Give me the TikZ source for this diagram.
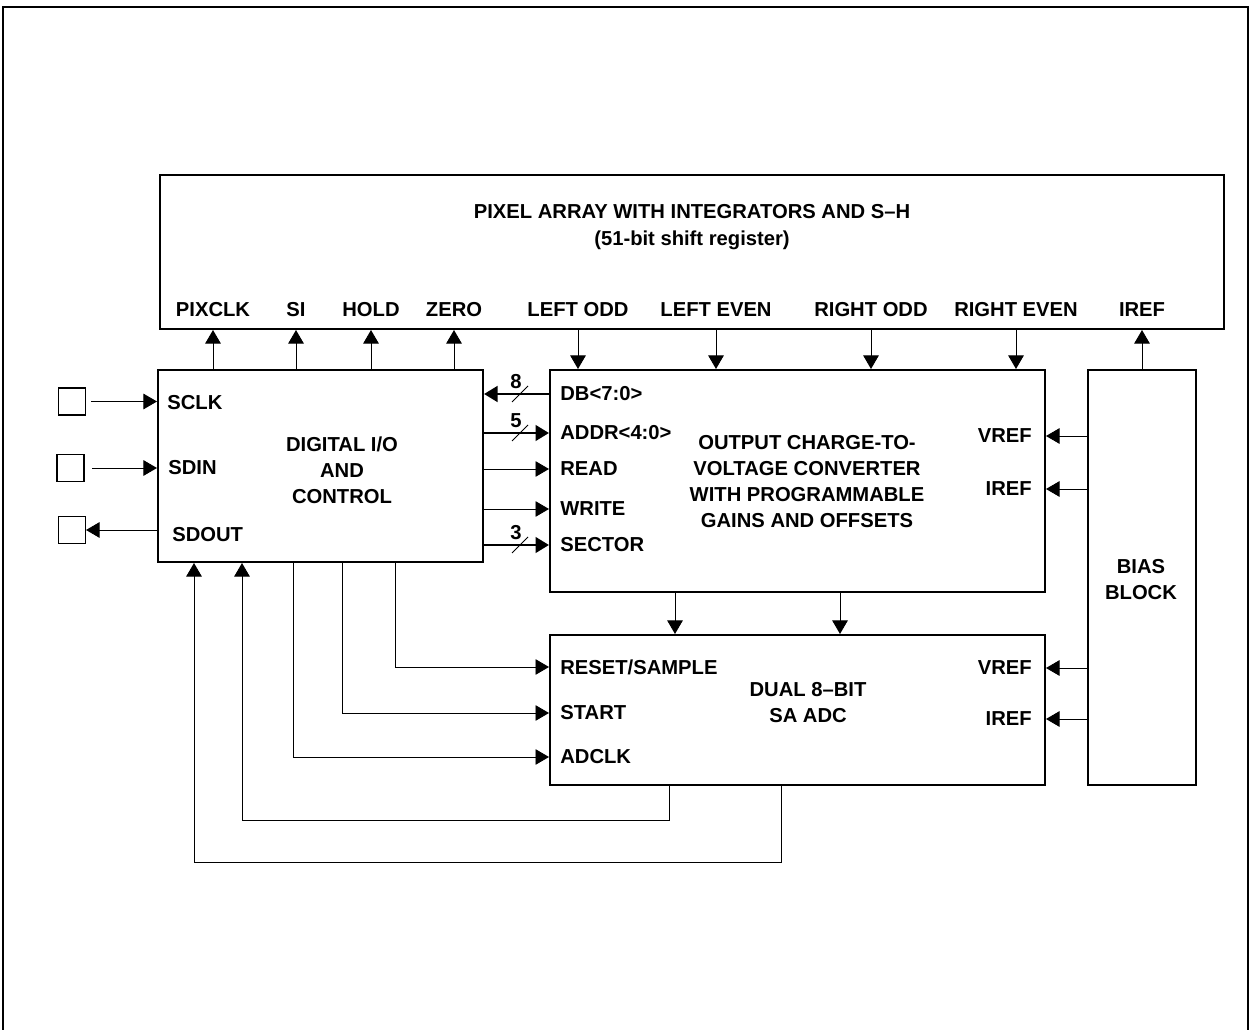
\documentclass[tikz,border=0pt]{standalone}
\usepackage{fontspec}
\setmainfont{Liberation Sans}
\usetikzlibrary{arrows.meta, positioning}

\begin{document}
\begin{tikzpicture}[
	x=0.02cm, y=-0.02cm,
	blk/.style={rectangle, draw, line width=1.2pt, inner sep=0pt},
	txt/.style={font=\fontsize{11.5}{14.8}\selectfont\bfseries, inner sep=0pt, align=center},
	sig/.style={-{Triangle[length=0.27cm, width=0.31cm]}, line width=0.5pt},
	bus/.style={sig, line width=1.7pt},
	pin/.style={rectangle, draw, line width=0.6pt, minimum size=0.54cm, inner sep=0pt}
	]
	\useasboundingbox (0,0) rectangle (1251,1030);
	\draw[line width=1pt] (3,1030) -- (3,7) -- (1248,7) -- (1248,1030);

	\node[blk, minimum width=21.28cm, minimum height=3.08cm] (pixarr) at (692,252) {};
	\node[blk, minimum width=6.5cm, minimum height=3.84cm] (digio) at (320.5,466) {};
	\node[blk, minimum width=9.9cm, minimum height=4.44cm] (ctov) at (797.5,481) {};
	\node[blk, minimum width=9.9cm, minimum height=3.0cm] (adc) at (797.5,710) {};
	\node[blk, minimum width=2.16cm, minimum height=8.3cm] (bias) at (1142,577.5) {};

	\node[txt] (pixtitle) at (692,227) {PIXEL ARRAY WITH INTEGRATORS AND S--H\\[1pt](51-bit shift register)};
	\node[txt] (digtitle) at (342,470) {DIGITAL I/O\\AND\\CONTROL};
	\node[txt] (ctovtitle) at (807,482) {OUTPUT CHARGE-TO-\\VOLTAGE CONVERTER\\WITH PROGRAMMABLE\\GAINS AND OFFSETS};
	\node[txt] (adctitle) at (808,703) {DUAL 8--BIT\\SA ADC};
	\node[txt] (biastitle) at (1141,580) {BIAS\\BLOCK};

	\foreach \x/\t/\n in {213/PIXCLK/pixclk, 296/SI/si, 371/HOLD/hold, 454/ZERO/zero}{
		\node[txt] (\n) at (\x,310) {\t};
		\draw[sig] (\n |- digio.north) -- (\n |- pixarr.south);
	}
	\foreach \x/\t/\n in {578/LEFT ODD/lodd, 716/LEFT EVEN/leven, 871/RIGHT ODD/rodd, 1016/RIGHT EVEN/reven}{
		\node[txt] (\n) at (\x,310) {\t};
		\draw[sig] (\n |- pixarr.south) -- (\n |- ctov.north);
	}
	\node[txt] (iref) at (1142,310) {IREF};
	\draw[sig] (bias.north) -- (bias.north |- pixarr.south);

	\node[pin] (sclkpin) at (72,401.5) {};
	\node[pin] (sdinpin) at (70.5,468) {};
	\node[pin] (sdoutpin) at (72,530) {};
	\node[txt, anchor=west] (sclk) at (167,403) {SCLK};
	\node[txt, anchor=west] (sdin) at (168,468) {SDIN};
	\node[txt, anchor=west] (sdout) at (172,535) {SDOUT};
	\draw[sig, shorten <=0.1cm] (sclkpin) -- (sclkpin -| digio.west);
	\draw[sig, shorten <=0.15cm] (sdinpin) -- (sdinpin -| digio.west);
	\draw[sig] (sdoutpin -| digio.west) -- (sdoutpin);

	\node[txt, anchor=west] (db) at (560,394) {DB<7:0>};
	\node[txt, anchor=west] (addr) at (560,433) {ADDR<4:0>};
	\node[txt, anchor=west] (rd) at (560,469) {READ};
	\node[txt, anchor=west] (wr) at (560,509) {WRITE};
	\node[txt, anchor=west] (sec) at (560,545) {SECTOR};
	\draw[bus] (ctov.west |- db) -- (digio.east |- db);
	\draw[bus] (digio.east |- addr) -- (ctov.west |- addr);
	\draw[sig] (digio.east |- rd) -- (ctov.west |- rd);
	\draw[sig] (digio.east |- wr) -- (ctov.west |- wr);
	\draw[bus] (digio.east |- sec) -- (ctov.west |- sec);
	\foreach \n/\w in {db/8, addr/5, sec/3}{
		\draw[line width=0.5pt] (520,0 |- \n) ++(-8,8) -- ++(16,-16);
		\node[txt, above=0.1cm] (w\n) at (516,0 |- \n) {\w};
	}

	\node[txt, anchor=east] (cvref) at (1032,436) {VREF};
	\node[txt, anchor=east] (ciref) at (1032,489) {IREF};
	\node[txt, anchor=east] (avref) at (1032,668) {VREF};
	\node[txt, anchor=east] (airef) at (1032,719) {IREF};
	\draw[sig] (bias.west |- cvref) -- (ctov.east |- cvref);
	\draw[sig] (bias.west |- ciref) -- (ctov.east |- ciref);
	\draw[sig] (bias.west |- avref) -- (adc.east |- avref);
	\draw[sig] (bias.west |- airef) -- (adc.east |- airef);

	\draw[sig] (675,0 |- ctov.south) -- (675,0 |- adc.north);
	\draw[sig] (840,0 |- ctov.south) -- (840,0 |- adc.north);

	\node[txt, anchor=west] (rstsmp) at (560,667) {RESET/SAMPLE};
	\node[txt, anchor=west] (start) at (560,713) {START};
	\node[txt, anchor=west] (adclk) at (560,757) {ADCLK};
	\draw[sig] (395,0 |- digio.south) |- (adc.west |- rstsmp);
	\draw[sig] (342,0 |- digio.south) |- (adc.west |- start);
	\draw[sig] (293,0 |- digio.south) |- (adc.west |- adclk);

	\draw[sig] (669,0 |- adc.south) |- (242,820) -- (242,0 |- digio.south);
	\draw[sig] (781,0 |- adc.south) |- (194,862) -- (194,0 |- digio.south);
\end{tikzpicture}
\end{document}
